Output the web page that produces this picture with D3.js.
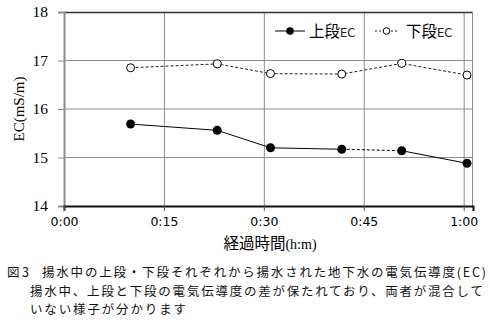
<!DOCTYPE html>
<html>
<head>
<meta charset="utf-8">
<script src="https://cdn.jsdelivr.net/npm/d3@7"></script>
<style>
  html, body { margin: 0; padding: 0; background: #fff; }
  svg { display: block; }
</style>
</head>
<body>
<svg id="chart" width="490" height="330"></svg>
<script>
// Elapsed pumping time (minutes) and EC readings (mS/m)
const minutes = [10, 23, 31, 41.7, 50.7, 60.5];
const upperEC = [15.69, 15.56, 15.20, 15.17, 15.14, 14.88];
const lowerEC = [16.85, 16.93, 16.73, 16.72, 16.94, 16.70];
const xTickValues = [0, 15, 30, 45, 60];
const xTickLabels = ["0:00", "0:15", "0:30", "0:45", "1:00"];
const yTickValues = [14, 15, 16, 17, 18];
const captionLines = [
  "揚水中の上段・下段それぞれから揚水された地下水の電気伝導度(EC)",
  "揚水中、上段と下段の電気伝導度の差が保たれており、両者が混合して",
  "いない様子が分かります"
];

const svg = d3.select("#chart");
const plotL = 64, plotR = 473, plotT = 12, plotB = 206;

const x = d3.scaleLinear().domain([0, 61.4]).range([plotL, plotR]);
const y = d3.scaleLinear().domain([14, 18]).range([plotB, plotT]);

const sans = "'Noto Sans CJK JP', 'Noto Sans', sans-serif";
const serif = "'Liberation Serif', 'DejaVu Serif', serif";

// gridlines
const grid = svg.append("g");
grid.selectAll("line.h").data(yTickValues.slice(1, 4)).join("line")
  .attr("x1", plotL).attr("x2", plotR)
  .attr("y1", d => y(d)).attr("y2", d => y(d))
  .attr("stroke", "#8c8c8c").attr("stroke-width", 1);
grid.selectAll("line.v").data(xTickValues.slice(1)).join("line")
  .attr("x1", d => x(d) + 0.5).attr("x2", d => x(d) + 0.5)
  .attr("y1", plotT).attr("y2", plotB)
  .attr("stroke", "#8c8c8c").attr("stroke-width", 1);

// frame: top and right edges
svg.append("line").attr("x1", plotL).attr("x2", plotR).attr("y1", plotT + 0.5).attr("y2", plotT + 0.5)
  .attr("stroke", "#333").attr("stroke-width", 1.5);
svg.append("line").attr("x1", plotR - 0.5).attr("x2", plotR - 0.5).attr("y1", plotT).attr("y2", plotB)
  .attr("stroke", "#8c8c8c").attr("stroke-width", 1);

// y axis
const yAxis = svg.append("g").attr("transform", `translate(${plotL},0)`)
  .call(d3.axisLeft(y).tickValues(yTickValues).tickSize(6).tickPadding(10).tickFormat(d3.format("d")));
yAxis.select(".domain").attr("stroke", "#8c8c8c").attr("stroke-width", 2);
yAxis.selectAll(".tick line").attr("stroke", "#8c8c8c");
yAxis.selectAll(".tick text").attr("font-family", serif).attr("font-size", 15.5).attr("fill", "#000");

// x axis
const xAxis = svg.append("g").attr("transform", `translate(0,${plotB})`)
  .call(d3.axisBottom(x).tickValues(xTickValues).tickSize(5).tickPadding(6)
    .tickFormat((d, i) => xTickLabels[i]));
xAxis.select(".domain").attr("stroke", "#111").attr("stroke-width", 2);
xAxis.selectAll(".tick line").attr("stroke", "#555");
xAxis.selectAll(".tick text").attr("font-family", "'DejaVu Sans', sans-serif").attr("font-size", 12.5).attr("fill", "#000");

// axis titles
svg.append("text").attr("transform", `translate(24,${(plotT + plotB) / 2}) rotate(-90)`)
  .attr("text-anchor", "middle").attr("font-family", serif).attr("font-size", 15).text("EC(mS/m)");
const xt = svg.append("text").attr("x", 270).attr("y", 249).attr("text-anchor", "middle")
  .attr("font-family", sans).attr("font-size", 15.5);
xt.append("tspan").text("経過時間");
xt.append("tspan").attr("font-family", serif).attr("font-size", 14).text("(h:m)");

// series
const pts = (vals) => minutes.map((m, i) => [x(m), y(vals[i])]);
const lowerPts = pts(lowerEC), upperPts = pts(upperEC);

svg.append("path").attr("d", d3.line()(lowerPts)).attr("fill", "none")
  .attr("stroke", "#222").attr("stroke-width", 1).attr("stroke-dasharray", "3,2");

// upper series drawn segment by segment
d3.pairs(upperPts).forEach((seg, i) => {
  svg.append("path").attr("d", d3.line()(seg)).attr("fill", "none")
    .attr("stroke", "#000").attr("stroke-width", 1)
    .attr("stroke-dasharray", i === 3 ? "3,2" : null);
});

svg.selectAll("circle.lower").data(lowerPts).join("circle")
  .attr("cx", d => d[0]).attr("cy", d => d[1]).attr("r", 4)
  .attr("fill", "#fff").attr("stroke", "#000").attr("stroke-width", 1);
svg.selectAll("circle.upper").data(upperPts).join("circle")
  .attr("cx", d => d[0]).attr("cy", d => d[1]).attr("r", 4.5).attr("fill", "#000");

// legend
const ly = 31;
const lg = svg.append("g");
lg.append("line").attr("x1", 275).attr("x2", 305).attr("y1", ly).attr("y2", ly).attr("stroke", "#000");
lg.append("circle").attr("cx", 290).attr("cy", ly).attr("r", 3.8).attr("fill", "#000");
const t1 = lg.append("text").attr("x", 309).attr("y", ly + 5.5).attr("font-family", sans).attr("font-size", 15.5);
t1.append("tspan").text("上段");
t1.append("tspan").attr("font-size", 11.5).attr("font-family", "'DejaVu Sans', sans-serif").attr("fill", "#222").text("EC");

lg.append("line").attr("x1", 375).attr("x2", 398).attr("y1", ly).attr("y2", ly)
  .attr("stroke", "#222").attr("stroke-dasharray", "2,2");
lg.append("circle").attr("cx", 386.5).attr("cy", ly).attr("r", 3.3)
  .attr("fill", "#fff").attr("stroke", "#000");
const t2 = lg.append("text").attr("x", 406).attr("y", ly + 5.5).attr("font-family", sans).attr("font-size", 15.5);
t2.append("tspan").text("下段");
t2.append("tspan").attr("font-size", 11.5).attr("font-family", "'DejaVu Sans', sans-serif").attr("fill", "#222").text("EC");

// caption
const cap = svg.append("g").attr("font-family", sans).attr("font-size", 12.5).attr("fill", "#111");
cap.append("text").attr("x", 7).attr("y", 277).attr("textLength", 22).attr("lengthAdjust", "spacing").text("図3");
cap.append("text").attr("x", 42).attr("y", 277).attr("textLength", 444).attr("lengthAdjust", "spacing").text(captionLines[0]);
cap.append("text").attr("x", 30).attr("y", 295.5).attr("textLength", 453).attr("lengthAdjust", "spacing").text(captionLines[1]);
cap.append("text").attr("x", 30).attr("y", 313.5).attr("textLength", 156).attr("lengthAdjust", "spacing").text(captionLines[2]);
</script>
</body>
</html>
